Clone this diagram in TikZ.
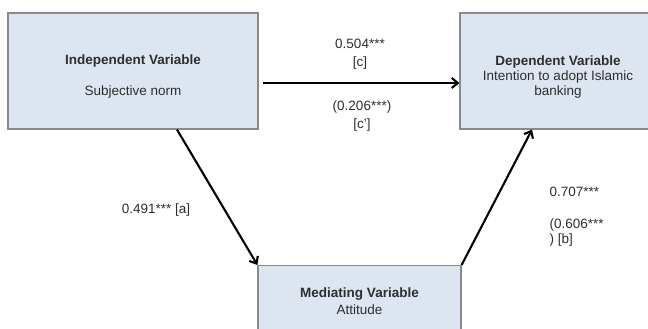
\documentclass[tikz,border=0pt]{standalone}
\usepackage{fontspec}
\setmainfont{Liberation Sans}
\usetikzlibrary{arrows.meta,positioning}
\definecolor{boxfill}{HTML}{DCE5F0}
\definecolor{boxline}{HTML}{8A8A8A}
\definecolor{txt}{HTML}{2E2E2E}

\begin{document}
\begin{tikzpicture}[x=1pt,y=-1pt, every node/.style={font=\fontsize{13.5}{15}\selectfont,align=center,text=txt},
  box/.style={draw=boxline,fill=boxfill,line width=1.2pt,inner sep=0pt},
  arr/.style={-{Straight Barb[length=6pt,width=10pt]},line width=2.1pt}]
  \useasboundingbox (0,0) rectangle (648,329);
  \node[box,minimum width=250pt,minimum height=116pt] (indep) at (133,71) {\rule{0pt}{20pt}\textbf{Independent Variable}\\[16pt]Subjective norm};
  \node[box,minimum width=196pt,minimum height=116pt] (dep) at (558,71) {\rule{0pt}{21pt}\textbf{Dependent Variable}\\Intention to adopt Islamic\\banking};
  \node[box,anchor=north,minimum width=203pt,minimum height=72pt] (med) at (359.5,265) {\textbf{Mediating Variable}\\[2pt]Attitude};
  % paths
  \draw[arr,shorten <=4pt] ([yshift=-12pt]indep.east) -- ([yshift=-12pt]dep.west);
  \draw[arr] ([xshift=44pt]indep.south) -- (med.north west);
  \draw[arr] (med.north east) -- ([xshift=-26pt]dep.south);
  % coefficients
  \node (c) at (360,54) {0.504***\\[3pt][c]};
  \node (cp) at (362,116) {(0.206***)\\[3pt][c']};
  \node (a) at (156,210) {0.491*** [a]};
  \node[anchor=west,align=left] (b) at (546,217) {0.707***\\[17pt](0.606***\\) [b]};
\end{tikzpicture}
\end{document}
